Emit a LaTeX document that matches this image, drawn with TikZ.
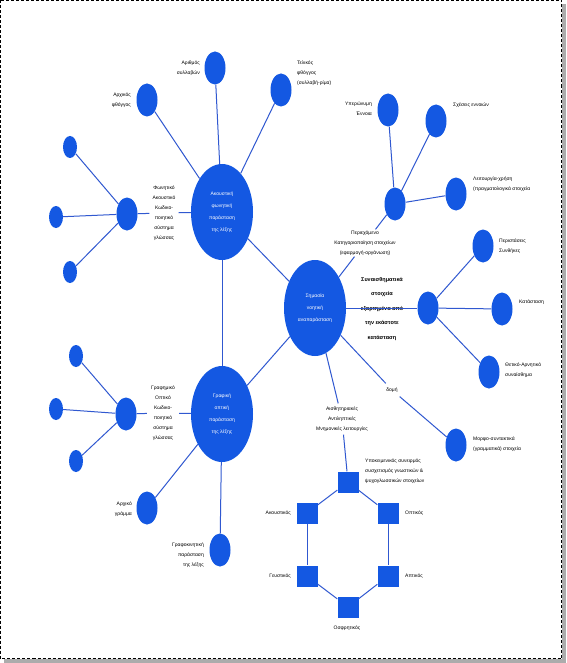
\documentclass[tikz,border=0pt]{standalone}
\usepackage{fontspec}
\setmainfont{Liberation Sans}
\usepackage{tikz}
\usetikzlibrary{shapes.geometric}
\definecolor{nodeblue}{RGB}{20,88,226}
\definecolor{linkblue}{RGB}{48,88,208}

\begin{document}
\begin{tikzpicture}[x=1pt,y=-1pt,
  big/.style={ellipse,fill=nodeblue,inner sep=0pt,minimum width=62pt,minimum height=96pt,text=white,align=center,font=\fontsize{5}{12}\selectfont},
  blob/.style={ellipse,fill=nodeblue,inner sep=0pt,minimum width=21pt,minimum height=33pt},
  smallblob/.style={ellipse,fill=nodeblue,inner sep=0pt,minimum width=14pt,minimum height=22pt},
  sqnode/.style={rectangle,fill=nodeblue,inner sep=0pt,minimum size=21pt},
  txt/.style={font=\fontsize{5}{10}\selectfont,inner sep=1pt},
  link/.style={draw=linkblue,line width=1pt}]
  \useasboundingbox (0,0) rectangle (566,663);
  \fill[gray!65] (4,4) rectangle (566,663);
  \draw[fill=white,line width=1pt,dash pattern=on 3pt off 2pt] (0.5,0.5) rectangle (561.5,658.5);

  \node[big] (akoust) at (222,212) {Ακουστική\\φωνητική\\παράσταση\\της λέξης};
  \node[big] (graf) at (222,414) {Γραφική\\οπτική\\παράσταση\\της λέξης};
  \node[big] (simas) at (315,308) {Σημασία\\νοητική\\αναπαράσταση};

  \node[blob] (arxf) at (147,100) {};
  \node[blob] (arith) at (215,68) {};
  \node[blob] (telik) at (281,90) {};
  \node[blob] (fhub) at (127,214) {};
  \node[smallblob] (f1) at (70,147) {};
  \node[smallblob] (f2) at (56,217) {};
  \node[smallblob] (f3) at (70,272) {};
  \node[blob] (ghub) at (126,414) {};
  \node[smallblob] (g1) at (76,356) {};
  \node[smallblob] (g2) at (56,409) {};
  \node[smallblob] (g3) at (76,461) {};
  \node[blob] (arxg) at (147,508) {};
  \node[blob] (grafok) at (220,550) {};
  \node[blob] (phub) at (395,204) {};
  \node[blob] (hyper) at (388,110) {};
  \node[blob] (sxes) at (436,121) {};
  \node[blob] (leit) at (456,194) {};
  \node[blob] (shub) at (428,308) {};
  \node[blob] (peri) at (483,246) {};
  \node[blob] (katas) at (502,309) {};
  \node[blob] (theti) at (489,372) {};
  \node[blob] (morfo) at (456,445) {};

  \node[sqnode] (s0) at (348,482) {};
  \node[sqnode] (s1) at (307,513) {};
  \node[sqnode] (s2) at (388,513) {};
  \node[sqnode] (s3) at (307,576) {};
  \node[sqnode] (s4) at (388,576) {};
  \node[sqnode] (s5) at (348,607) {};

  \node[txt,anchor=east,align=right] (larxf) at (132,100) {Αρχικός\\φθόγγος};
  \node[txt,anchor=east,align=right] (larith) at (201,68) {Αριθμός\\συλλαβών};
  \node[txt,anchor=west,align=left] (ltelik) at (296,73) {Τελικός\\φθόγγος\\(συλλαβή-ρίμα)};
  \node[txt,align=center,inner sep=3pt] (lfhub) at (164,213) {Φωνητικό\\Ακουστικό\\Κωδικο-\\ποιητικό\\σύστημα\\γλώσσας};
  \node[txt,align=center,inner sep=4pt] (lghub) at (163,413) {Γραφημικό\\Οπτικό\\Κωδικο-\\ποιητικό\\σύστημα\\γλώσσας};
  \node[txt,anchor=east,align=right] (larxg) at (133,509) {Αρχικό\\γράμμα};
  \node[txt,anchor=east,align=right] (lgrafok) at (205,555) {Γραφοκινητική\\παράσταση\\της λέξης};
  \node[txt,anchor=east,align=right] (lhyper) at (373,109) {Υπερώνυμη\\Έννοια};
  \node[txt,anchor=west] (lsxes) at (452,105) {Σχέσεις εννοιών};
  \node[txt,anchor=west,align=left] (lleit) at (472,184) {Λειτουργία-χρήση\\(πραγματολογικά στοιχεία};
  \node[txt,align=center] (lphub) at (365,243) {Περιεχόμενο\\Κατηγοριοποίηση στοιχείων\\(εφαρμογή-οργάνωση)};
  \node[font=\bfseries\fontsize{5.5}{14.5}\selectfont,align=center] (lshub) at (382,309) {Συναισθηματικά\\στοιχεία\\εξαρτημένα από\\την εκάστοτε\\κατάσταση};
  \node[txt,anchor=west,align=left] (lperi) at (498,246) {Περιστάσεις\\Συνθήκες};
  \node[txt,anchor=west] (lkatas) at (518,302) {Κατάσταση};
  \node[txt,anchor=west,align=left] (ltheti) at (504,370) {Θετικό-Αρνητικό\\συναίσθημα};
  \node[txt,inner sep=4pt] (ldomi) at (392,390) {δομή};
  \node[txt,anchor=west,align=left] (lmorfo) at (472,444) {Μορφο-συντακτικά\\(γραμματικά) στοιχεία};
  \node[txt,align=center,inner sep=3pt] (laisth) at (342,419) {Αισθητηριακές\\Αντιληπτικές\\Μνημονικές λειτουργίες};
  \node[txt,anchor=west,align=left] (lsubj) at (364,471) {Υποκειμενικός συνειρμός\\συσχετισμός γνωστικών \&\\ψυχογλωσσικών στοιχείων};
  \node[txt,anchor=east] (ls1) at (292,513) {Ακουστικός};
  \node[txt,anchor=west] (ls2) at (404,513) {Οπτικός};
  \node[txt,anchor=east] (ls3) at (292,576) {Γευστικός};
  \node[txt,anchor=west] (ls4) at (404,576) {Απτικός};
  \node[txt] (ls5) at (347,628) {Οσφρητικός};

  \draw[link] (akoust) -- (arxf);
  \draw[link] (akoust) -- (arith);
  \draw[link] (akoust) -- (telik);
  \draw[link] (akoust) -- (lfhub) -- (fhub);
  \draw[link] (fhub) -- (f1);
  \draw[link] (fhub) -- (f2);
  \draw[link] (fhub) -- (f3);
  \draw[link] (akoust) -- (graf);
  \draw[link] (akoust) -- (simas);
  \draw[link] (graf) -- (simas);
  \draw[link] (graf) -- (lghub) -- (ghub);
  \draw[link] (ghub) -- (g1);
  \draw[link] (ghub) -- (g2);
  \draw[link] (ghub) -- (g3);
  \draw[link] (graf) -- (arxg);
  \draw[link] (graf) -- (grafok);
  \draw[link] (simas) -- (lphub) -- (phub);
  \draw[link] (phub) -- (hyper);
  \draw[link] (phub) -- (sxes);
  \draw[link] (phub) -- (leit);
  \draw[link] (simas) -- (shub);
  \draw[link] (shub) -- (peri);
  \draw[link] (shub) -- (katas);
  \draw[link] (shub) -- (theti);
  \draw[link] (simas) -- (ldomi) -- (morfo);
  \draw[link] (simas) -- (laisth) -- (s0);
  \draw[link] (s0) -- (s1);
  \draw[link] (s0) -- (s2);
  \draw[link] (s1) -- (s3);
  \draw[link] (s2) -- (s4);
  \draw[link] (s3) -- (s5);
  \draw[link] (s4) -- (s5);
\end{tikzpicture}
\end{document}
